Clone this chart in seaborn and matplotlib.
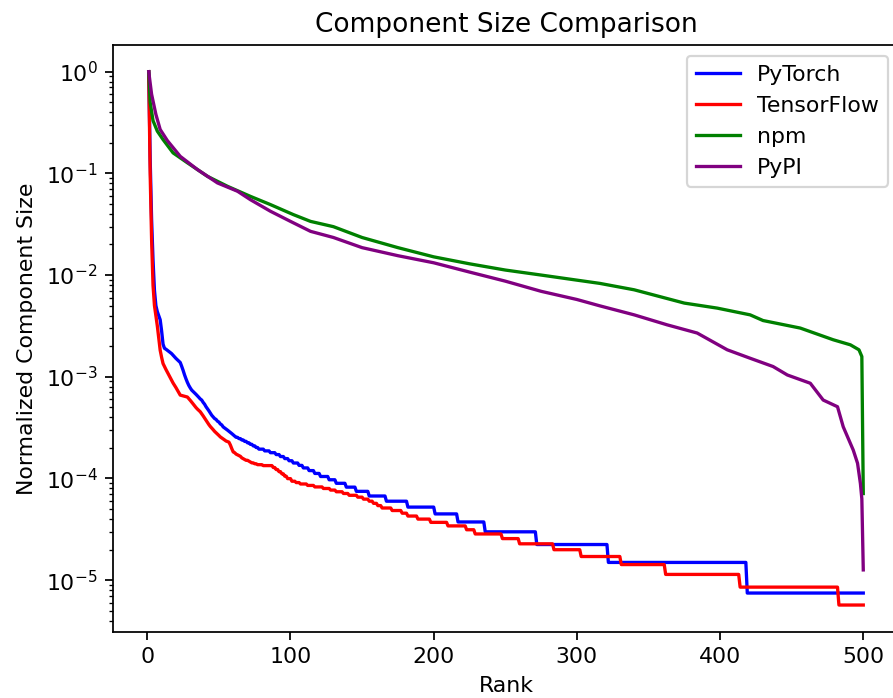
import numpy as np
import pandas as pd
import seaborn as sns
import matplotlib
matplotlib.use('Agg')
import matplotlib.pyplot as plt

# component sizes per rank (head) + run-length encoded tail (size, how many ranks)
pytorch_head = [134000, 18920, 4750, 1890, 948, 671, 585, 533, 487, 378, 280, 255,
                250, 244, 238, 232, 226, 218, 210, 203, 197, 191, 185,
                170, 155, 140, 128, 118, 110, 104, 99,
                96, 93, 90, 87, 84, 81, 79,
                75, 72, 68, 65, 62, 59, 56, 54,
                52, 51, 49, 48, 46, 45, 43, 42,
                41, 40, 39, 38, 37, 36, 35, 34, 34,
                33, 33, 32, 32, 31, 31, 30, 30, 29, 29, 28, 28, 27, 27]
pytorch_tail_sizes = [26, 25, 24, 23, 22, 21, 20, 19, 18, 17, 16, 15, 14, 13,
                      12, 11, 10, 9, 8, 7, 6, 5, 4, 3, 2, 1]
pytorch_tail_counts = [4, 4, 4, 3, 3, 3, 3, 4, 3, 4, 4, 4, 6, 5,
                       7, 7, 9, 12, 15, 19, 16, 19, 36, 50, 97, 82]

tensorflow_head = [351600, 35160, 7870, 2790, 1762, 1400, 1112, 843, 640, 545, 474, 443,
                   415, 390, 365, 345, 325, 305, 290, 275, 260, 245, 232,
                   230, 228, 226, 224, 222,
                   214, 206, 198, 190, 182, 175, 169, 164, 159,
                   152, 145, 138, 131, 125, 119, 114,
                   110, 106, 102, 99, 96, 93, 90,
                   88, 86, 84, 82, 81, 80,
                   75, 69, 64,
                   63, 61, 60, 59, 58, 56, 55,
                   54, 53, 53, 52, 51, 50, 50, 49, 49, 48]
tensorflow_tail_sizes = [48, 47, 45, 43, 41, 39, 37, 35, 33, 32,
                         31, 30, 29, 28, 27, 26, 25, 24, 23, 22,
                         21, 20, 19, 18, 17, 16, 15, 14, 13, 12,
                         11, 10, 9, 8, 7, 6, 5, 4, 3, 2]
tensorflow_tail_counts = [3, 7, 2, 2, 2, 2, 2, 3, 3, 3,
                          5, 5, 6, 5, 4, 5, 4, 6, 4, 4,
                          3, 3, 3, 7, 7, 4, 7, 9, 12, 13,
                          6, 19, 12, 24, 19, 28, 31, 52, 69, 18]

npm_rank = [1, 2, 4, 7, 11, 18, 28, 42, 56, 72, 86, 102, 114, 130, 150, 175, 200, 225,
            250, 275, 300, 316, 340, 375, 398, 421, 430, 456, 479, 491, 497, 499, 500]
npm_value = [1.0, 0.5, 0.33, 0.26, 0.215, 0.159, 0.127, 0.0935, 0.0746, 0.0594, 0.0493,
             0.0393, 0.0337, 0.0299, 0.0234, 0.0186, 0.0151, 0.0129, 0.0112, 0.0100,
             0.00891, 0.00828, 0.00716, 0.00530, 0.00473, 0.00406, 0.00357, 0.00301,
             0.00231, 0.00206, 0.00184, 0.00158, 7.1e-5]

pypi_rank = [1, 3, 6, 9, 14, 23, 35, 49, 63, 72, 86, 100, 114, 130, 150, 175, 200, 225,
             250, 275, 300, 316, 340, 363, 384, 405, 421, 437, 447, 463, 472, 482, 486,
             493, 496, 498, 499, 500]
pypi_value = [1.0, 0.6, 0.38, 0.27, 0.21, 0.147, 0.109, 0.0805, 0.0667, 0.0551,
              0.0424, 0.0337, 0.0269, 0.0234, 0.0186, 0.0155, 0.0132, 0.0107, 0.00871,
              0.00692, 0.00575, 0.00498, 0.00406, 0.00324, 0.00269, 0.00184, 0.00152,
              0.00126, 0.00104, 0.000863, 0.00059, 0.000507, 0.000322, 0.00019,
              0.000141, 8.9e-5, 6.3e-5, 1.26e-5]


def expand(head, tail_sizes, tail_counts):
    sizes = np.concatenate([np.array(head, dtype=float),
                            np.repeat(np.array(tail_sizes, dtype=float), tail_counts)])
    return np.arange(1, len(sizes) + 1), sizes / sizes[0]


pt_rank, pt_value = expand(pytorch_head, pytorch_tail_sizes, pytorch_tail_counts)
tf_rank, tf_value = expand(tensorflow_head, tensorflow_tail_sizes, tensorflow_tail_counts)

series = [('PyTorch', pt_rank, pt_value, 'blue'),
          ('TensorFlow', tf_rank, tf_value, 'red'),
          ('npm', npm_rank, npm_value, 'green'),
          ('PyPI', pypi_rank, pypi_value, 'purple')]

dpi = 158.5
fig = plt.figure(figsize=(894 / dpi, 698 / dpi), dpi=dpi)
ax = fig.add_axes([113 / 894, 66.3 / 698, 786 / 894, 586.7 / 698])

for name, r, v, c in series:
    df = pd.DataFrame({'Rank': r, 'size': v})
    sns.lineplot(data=df, x='Rank', y='size', color=c, label=name,
                 estimator=None, sort=False, ax=ax)

ax.set_yscale('log')
ax.set_xticks([0, 100, 200, 300, 400, 500])
ax.set_xlabel('Rank')
ax.set_ylabel('Normalized Component Size')
ax.set_title('Component Size Comparison')
ax.legend(loc='upper right')

fig.savefig('out.png', dpi=dpi)
